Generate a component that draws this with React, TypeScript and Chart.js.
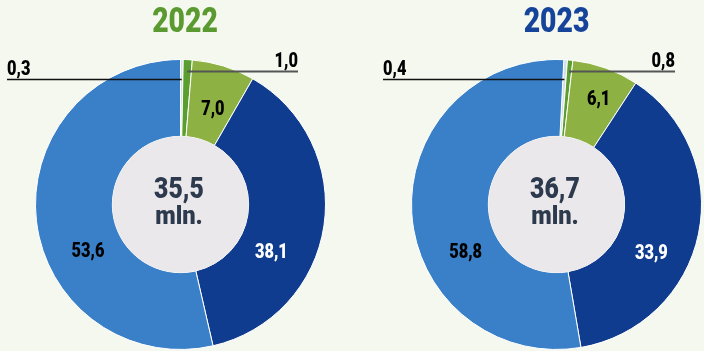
import React, { useEffect, useRef } from "react";
import { Chart, registerables } from "chart.js";

Chart.register(...registerables);

// ---- Data ----
const CATEGORIES = ["Other", "Category B", "Category C", "Category D", "Category E"];
const VALUES_2022 = [0.3, 1.0, 7.0, 38.1, 53.6];
const VALUES_2023 = [0.4, 0.8, 6.1, 33.9, 58.8];
// The reference's 2023 ring is drawn with slice sizes that differ from its labels;
const SLICES_2022 = VALUES_2022;
const SLICES_2023 = [0.4, 0.6, 7.4, 38.1, 53.5];
const TOTAL_2022 = 35.5;
const TOTAL_2023 = 36.7;
const YEARS = ["2022", "2023"];
const UNIT = "mln.";

// ---- Styles ----
const BG = "#f5f8ef";
const COLORS = ["#d3dfe7", "#5a9e2f", "#8db243", "#0f3c8f", "#3a80c8"];
const LABEL_COLORS = ["#000000", "#000000", "#000000", "#ffffff", "#000000"];
const TITLE_COLORS = ["#5a9a30", "#16449a"];
const FONT = 'Roboto, "Liberation Sans", sans-serif';

type Placement =
  | { kind: "leader"; dy: number; dx: number; color: string; width: number }
  | { kind: "inside"; angle: number; r: number };

const PLACE_2022: Placement[] = [
  { kind: "leader", dy: -125, dx: -173.5, color: "#111111", width: 1.5 },
  { kind: "leader", dy: -133, dx: 117.5, color: "#555555", width: 2 },
  { kind: "inside", angle: 18.5, r: 102 },
  { kind: "inside", angle: 117, r: 102 },
  { kind: "inside", angle: 244, r: 103 },
];
const PLACE_2023: Placement[] = [
  { kind: "leader", dy: -125, dx: -173.5, color: "#111111", width: 1.5 },
  { kind: "leader", dy: -133, dx: 118.5, color: "#555555", width: 2 },
  { kind: "inside", angle: 21.5, r: 115 },
  { kind: "inside", angle: 116.5, r: 106 },
  { kind: "inside", angle: 243, r: 102 },
];

const fmt = (v: number) => v.toFixed(1).replace(".", ",");

function condText(
  ctx: CanvasRenderingContext2D,
  txt: string,
  x: number,
  y: number,
  size: number,
  sx: number,
  align: CanvasTextAlign
) {
  ctx.save();
  ctx.font = `900 ${size}px ${FONT}`;
  ctx.textAlign = align;
  ctx.textBaseline = "alphabetic";
  ctx.translate(x, y);
  ctx.scale(sx, 1);
  ctx.fillText(txt, 0, 0);
  ctx.restore();
}

const overlayPlugin = {
  id: "overlay",
  afterDatasetsDraw(chart: any, _args: any, opts: any) {
    const ctx: CanvasRenderingContext2D = chart.ctx;
    const meta = chart.getDatasetMeta(0);
    const a0 = meta.data[0];
    const cx = a0.x;
    const cy = a0.y;
    const inner = a0.innerRadius;
    ctx.save();
    // inner disc
    ctx.beginPath();
    ctx.arc(cx, cy, inner, 0, Math.PI * 2);
    ctx.fillStyle = "#eae8ea";
    ctx.fill();

    // center text
    ctx.fillStyle = "#2d3a4e";
    condText(ctx, fmt(opts.total), cx - 1.5, cy - 7, 29.5, 0.84, "center");
    condText(ctx, UNIT, cx - 1.5, cy + 19, 25, 0.95, "center");

    // title
    ctx.fillStyle = opts.titleColor;
    condText(ctx, opts.title, cx + opts.titleDx, 32, 35, 0.81, "center");

    // labels
    const values: number[] = opts.values;
    const places: Placement[] = opts.places;
    meta.data.forEach((arc: any, i: number) => {
      const p = places[i];
      const txt = fmt(values[i]);
      if (p.kind === "leader") {
        const mid = (arc.startAngle + arc.endAngle) / 2;
        const lineY = cy + p.dy;
        const r = (lineY - cy) / Math.sin(mid);
        const sx = cx + r * Math.cos(mid);
        const ex = cx + p.dx;
        ctx.strokeStyle = p.color;
        ctx.lineWidth = p.width;
        ctx.beginPath();
        ctx.moveTo(sx, lineY);
        ctx.lineTo(ex, lineY);
        ctx.stroke();
        ctx.fillStyle = "#000000";
        condText(ctx, txt, ex, lineY - 5, 21, 0.78, p.dx < 0 ? "left" : "right");
      } else {
        const rad = ((p.angle - 90) * Math.PI) / 180;
        const x = cx + p.r * Math.cos(rad);
        const y = cy + p.r * Math.sin(rad);
        ctx.fillStyle = LABEL_COLORS[i];
        condText(ctx, txt, x, y + 7.5, 21, 0.78, "center");
      }
    });
    ctx.restore();
  },
};

function Donut(props: {
  values: number[];
  slices: number[];
  rotation: number;
  total: number;
  title: string;
  titleColor: string;
  titleDx: number;
  places: Placement[];
  padding: { left: number; right: number; top: number; bottom: number };
  left: number;
  width: number;
}) {
  const ref = useRef<HTMLCanvasElement>(null);
  useEffect(() => {
    if (!ref.current) return;
    const chart = new Chart(ref.current, {
      type: "doughnut",
      data: {
        labels: CATEGORIES,
        datasets: [
          {
            data: props.slices,
            backgroundColor: COLORS,
            borderColor: "#ffffff",
            borderWidth: 1,
          },
        ],
      },
      options: {
        responsive: false,
        animation: false,
        cutout: "47%",
        rotation: props.rotation,
        layout: { padding: props.padding },
        plugins: {
          legend: { display: false },
          tooltip: { enabled: false },
          overlay: {
            values: props.values,
            total: props.total,
            title: props.title,
            titleColor: props.titleColor,
            titleDx: props.titleDx,
            places: props.places,
          },
        } as any,
      },
      plugins: [overlayPlugin],
    });
    return () => chart.destroy();
  }, []);
  return (
    <canvas
      ref={ref}
      width={props.width}
      height={351}
      style={{ position: "absolute", left: props.left, top: 0, width: props.width, height: 351 }}
    />
  );
}

export default function App() {
  return (
    <div
      style={{
        position: "fixed",
        left: 0,
        top: 0,
        width: 704,
        height: 351,
        background: BG,
        overflow: "hidden",
      }}
    >
      <Donut
        values={VALUES_2022}
        slices={SLICES_2022}
        rotation={0}
        total={TOTAL_2022}
        title={YEARS[0]}
        titleColor={TITLE_COLORS[0]}
        titleDx={4.5}
        places={PLACE_2022}
        padding={{ left: 35, right: 26, top: 59, bottom: 1 }}
        left={0}
        width={352}
      />
      <Donut
        values={VALUES_2023}
        slices={SLICES_2023}
        rotation={2.9}
        total={TOTAL_2023}
        title={YEARS[1]}
        titleColor={TITLE_COLORS[1]}
        titleDx={0}
        places={PLACE_2023}
        padding={{ left: 59, right: 2, top: 59, bottom: 1 }}
        left={352}
        width={352}
      />
    </div>
  );
}
